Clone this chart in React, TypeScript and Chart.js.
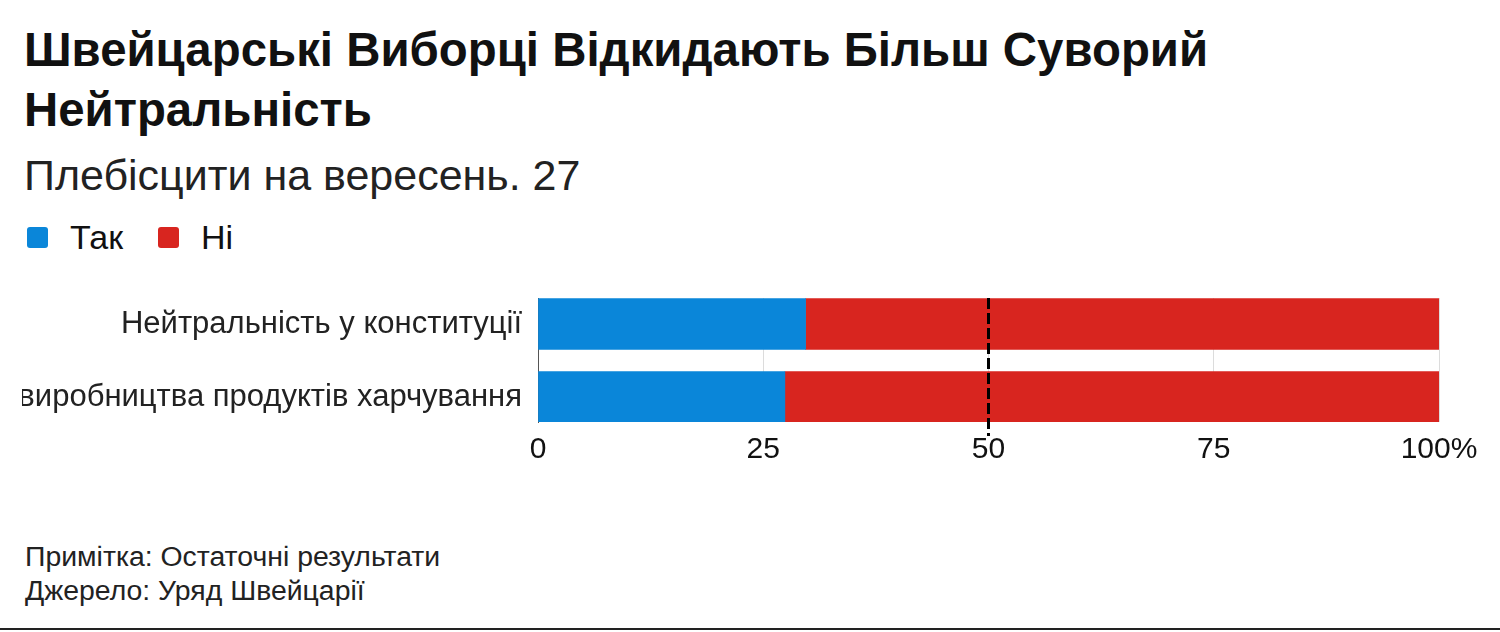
import React, { useEffect, useRef } from 'react';
import { Chart, registerables } from 'chart.js';

Chart.register(...registerables);

// data
const categories = ['Нейтральність у конституції', 'Самозабезпечення виробництва продуктів харчування'];
const yesValues = [29.7, 27.4];
const noValues = [70.3, 72.6];
const xTicks = [0, 25, 50, 75, 100];
const majorityLine = 50;

const BLUE = '#0a86d9';
const RED = '#d8251f';
const FONT = "'Liberation Sans', Arial, sans-serif";

const majorityPlugin = {
  id: 'majorityLine',
  afterDatasetsDraw(chart: any) {
    const { ctx, chartArea, scales } = chart;
    const x = scales.x.getPixelForValue(majorityLine);
    ctx.save();
    ctx.strokeStyle = '#000';
    ctx.lineWidth = 3;
    ctx.setLineDash([11, 4]);
    ctx.beginPath();
    ctx.moveTo(x, chartArea.top);
    ctx.lineTo(x, chartArea.bottom + 14);
    ctx.stroke();
    ctx.restore();
  },
};

const BarChart: React.FC = () => {
  const canvasRef = useRef<HTMLCanvasElement | null>(null);

  useEffect(() => {
    if (!canvasRef.current) return;
    const chart = new Chart(canvasRef.current, {
      type: 'bar',
      data: {
        datasets: [
          {
            label: 'Так',
            data: yesValues.map((v, i) => ({ x: v, y: i })),
            backgroundColor: BLUE,
            barThickness: 51,
          },
          {
            label: 'Ні',
            data: noValues.map((v, i) => ({ x: v, y: i })),
            backgroundColor: RED,
            barThickness: 51,
          },
        ],
      },
      options: {
        indexAxis: 'y',
        animation: false,
        responsive: true,
        maintainAspectRatio: false,
        layout: { padding: { top: 18, right: 61, bottom: 12, left: 0 } },
        plugins: {
          legend: { display: false },
          tooltip: { enabled: false },
        },
        scales: {
          x: {
            type: 'linear',
            stacked: true,
            min: 0,
            max: 100,
            afterBuildTicks: (scale: any) => {
              scale.ticks = xTicks.map((v) => ({ value: v }));
            },
            ticks: {
              padding: 10,
              color: '#111',
              maxRotation: 0,
              font: { family: FONT, size: 30 },
              callback: (v: any) => (v === 100 ? '100%' : String(v)),
            },
            grid: { color: '#dcdcdc', lineWidth: 1, drawTicks: false },
            border: { display: false },
          },
          y: {
            // linear index axis so the two bars sit flush with the plot edges
            type: 'linear',
            stacked: true,
            reverse: true,
            offset: false,
            min: -0.356,
            max: 1.342,
            afterBuildTicks: (scale: any) => {
              scale.ticks = categories.map((_, i) => ({ value: i }));
            },
            afterFit: (scale: any) => {
              scale.width = 516;
              scale.paddingTop = 0;
              scale.paddingBottom = 0;
            },
            ticks: {
              padding: 16,
              color: '#222',
              autoSkip: false,
              font: { family: FONT, size: 31 },
              callback: (v: any) => categories[v] ?? '',
            },
            grid: { display: false, drawTicks: false },
            border: { display: true, color: '#555', width: 1 },
          },
        },
      },
      plugins: [majorityPlugin],
    });
    return () => chart.destroy();
  }, []);

  return <canvas ref={canvasRef} />;
};

export default function App() {
  useEffect(() => {
    document.body.style.margin = '0';
    document.body.style.background = '#fff';
  }, []);

  const box = (color: string) => ({
    display: 'inline-block',
    width: 21,
    height: 21,
    borderRadius: 3,
    background: color,
  });

  return (
    <div style={{ position: 'relative', width: 1500, height: 632, overflow: 'hidden', fontFamily: FONT, color: '#111' }}>
      <div style={{ position: 'absolute', left: 24, top: 20, width: 1300, fontSize: 47.4, fontWeight: 700, lineHeight: '60px', color: '#111' }}>
        Швейцарські Виборці Відкидають Більш Суворий Нейтральність
      </div>
      <div style={{ position: 'absolute', left: 24, top: 150, fontSize: 43, lineHeight: '50px', color: '#222' }}>
        Плебісцити на вересень. 27
      </div>
      <div style={{ position: 'absolute', left: 27, top: 217, fontSize: 34, lineHeight: '40px', color: '#111', display: 'flex', alignItems: 'center' }}>
        <span style={box(BLUE)} />
        <span style={{ marginLeft: 22 }}>Так</span>
        <span style={{ ...box(RED), marginLeft: 35 }} />
        <span style={{ marginLeft: 22 }}>Ні</span>
      </div>
      <div style={{ position: 'absolute', left: 22, top: 280, width: 1478, height: 210 }}>
        <BarChart />
      </div>
      <div style={{ position: 'absolute', left: 25, top: 539, fontSize: 28.4, lineHeight: '34px', color: '#222' }}>
        <div>Примітка: Остаточні результати</div>
        <div>Джерело: Уряд Швейцарії</div>
      </div>
      <div style={{ position: 'absolute', left: 0, top: 628, width: 1500, height: 2, background: '#222' }} />
    </div>
  );
}
